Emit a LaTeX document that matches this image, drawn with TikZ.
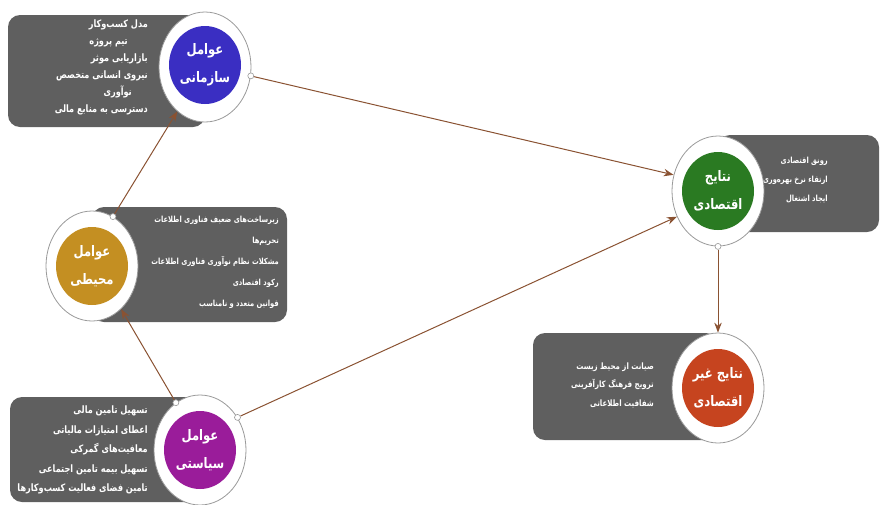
\documentclass[tikz,border=0pt]{standalone}
\usepackage{fontspec}
\usetikzlibrary{shapes.geometric,arrows.meta}
\TeXXeTstate=1
\newfontfamily\farsi[Script=Arabic,FakeStretch=0.8]{DejaVu Sans}
\newcommand{\fa}[1]{\beginR #1\endR}
\definecolor{boxgray}{HTML}{5F5F5F}
\definecolor{ringgray}{HTML}{9A9A9A}
\definecolor{arrowbrown}{HTML}{8A5232}
\definecolor{orgblue}{HTML}{3A2EC2}
\definecolor{envgold}{HTML}{C48F22}
\definecolor{polpurple}{HTML}{9A1C9A}
\definecolor{ecogreen}{HTML}{2A7A22}
\definecolor{nonred}{HTML}{C6441F}
\tikzset{
  ring/.style={ellipse,draw=ringgray,fill=white,line width=0.8pt,
               minimum width=92pt,minimum height=110pt,inner sep=0pt},
  core/.style={ellipse,fill=#1,minimum width=72pt,minimum height=78pt,
               inner sep=0pt,text=white,align=center,
               font=\farsi\bfseries\fontsize{14.5}{28}\selectfont},
  infobox/.style={rounded corners=12pt,fill=boxgray},
  boxtext/.style 2 args={text=white,inner sep=0pt,
                  font=\farsi\bfseries\fontsize{#1}{#2}\selectfont},
  linkdot/.style={circle,draw=ringgray,fill=white,line width=0.6pt,
                  minimum size=6pt,inner sep=0pt},
  link/.style={draw=arrowbrown,line width=1pt,-{Stealth[length=10pt,width=7.5pt]}},
}
\begin{document}
\begin{tikzpicture}[x=1pt,y=-1pt]
  \useasboundingbox (0,0) rectangle (881,504);
  % grey boxes behind the circles
  \fill[infobox] (8,15) rectangle (205,127);
  \fill[infobox] (92,207) rectangle (287,322);
  \fill[infobox] (10,397) rectangle (200,502);
  \fill[infobox] (718,135) rectangle (879,232);
  \fill[infobox] (533,333) rectangle (718,440);

  \node[boxtext={10.2}{17},align=right,anchor=east] (orgtxt) at (148,67)
    {\fa{مدل کسب‌وکار}\\\fa{تیم پروژه}\makebox[20pt]{}\\\fa{بازاریابی موثر}\\
     \fa{نیروی انسانی متخصص}\\\fa{نوآوری}\makebox[16pt]{}\\\fa{دسترسی به منابع مالی}};
  \node[boxtext={8.4}{21},align=right,anchor=east] (envtxt) at (279,262)
    {\fa{زیرساخت‌های ضعیف فناوری اطلاعات}\\\fa{تحریم‌ها}\\
     \fa{مشکلات نظام نوآوری فناوری اطلاعات}\\\fa{رکود اقتصادی}\\
     \fa{قوانین متعدد و نامناسب}};
  \node[boxtext={10.2}{19.5},align=right,anchor=east] (poltxt) at (148,450)
    {\fa{تسهیل تامین مالی}\\\fa{اعطای امتیازات مالیاتی}\\\fa{معافیت‌های گمرکی}\\
     \fa{تسهیل بیمه تامین اجتماعی}\\\fa{تامین فضای فعالیت کسب‌وکارها}};
  \node[boxtext={8.4}{19},align=right,anchor=east] (ecotxt) at (828,180)
    {\fa{رونق اقتصادی}\\\fa{ارتقاء نرخ بهره‌وری}\\\fa{ایجاد اشتغال}};
  \node[boxtext={8.8}{18.5},align=right,anchor=east] (nontxt) at (654,385)
    {\fa{صیانت از محیط زیست}\\\fa{ترویج فرهنگ کارآفرینی}\\\fa{شفافیت اطلاعاتی}};

  % circles
  \node[ring] (orgring) at (205,67) {};
  \node[ring] (envring) at (92,266) {};
  \node[ring] (polring) at (200,450) {};
  \node[ring] (ecoring) at (718,191) {};
  \node[ring] (nonring) at (718,388) {};
  \node[core=orgblue] (org) at (205,65) {\fa{عوامل}\\\fa{سازمانی}};
  \node[core=envgold] (env) at (92,266) {\fa{عوامل}\\\fa{محیطی}};
  \node[core=polpurple] (pol) at (200,450) {\fa{عوامل}\\\fa{سیاستی}};
  \node[core=ecogreen] (eco) at (718,191) {\fa{نتایج}\\\fa{اقتصادی}};
  \node[core=nonred] (non) at (718,388) {\fa{نتایج غیر}\\\fa{اقتصادی}};

  % small joints on the rings
  \node[linkdot] (orgdot) at (orgring.-11) {};
  \node[linkdot] (envdot) at (envring.67) {};
  \node[linkdot] (poldotA) at (polring.117) {};
  \node[linkdot] (poldotB) at (polring.41) {};
  \node[linkdot] (ecodot) at (ecoring.-90) {};

  % arrows
  \draw[link] (orgdot) -- (ecoring.160);
  \draw[link] (poldotB) -- (ecoring.-148);
  \draw[link] (poldotA) -- (envring.-56);
  \draw[link] (envdot) -- (orgring.-122);
  \draw[link] (ecodot) -- (nonring.north);
\end{tikzpicture}
\end{document}
